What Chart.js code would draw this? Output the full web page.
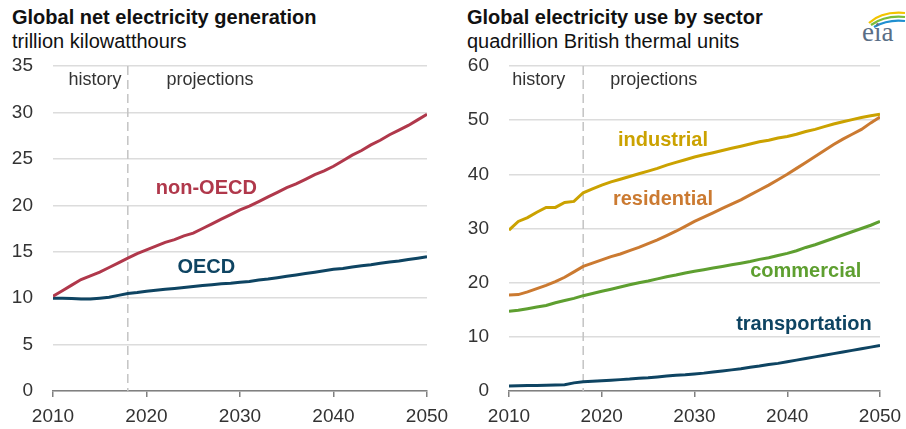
<!DOCTYPE html>
<html><head><meta charset="utf-8">
<script src="https://cdn.jsdelivr.net/npm/chart.js@4"></script>
<style>
html,body{margin:0;padding:0;background:#fff;}
body{width:906px;height:429px;position:relative;overflow:hidden;font-family:'Liberation Sans',Arial,sans-serif;}
.t{position:absolute;white-space:nowrap;color:#111;line-height:23px;}
.title{font-weight:bold;font-size:20px;}
.sub{font-size:20px;}
.cv{position:absolute;top:50px;width:450px;height:379px;}
</style></head><body>
<div class="t title" style="left:12px;top:6px">Global net electricity generation</div>
<div class="t sub" style="left:12px;top:30px">trillion kilowatthours</div>
<div class="t title" style="left:467px;top:6px">Global electricity use by sector</div>
<div class="t sub" style="left:467px;top:30px">quadrillion British thermal units</div>
<div class="cv" style="left:0"><canvas id="c1"></canvas></div>
<div class="cv" style="left:456px"><canvas id="c2"></canvas></div>
<svg style="position:absolute;left:858px;top:4px" width="48" height="42" viewBox="0 0 48 42">
<path d="M11 19 Q 24 7 47 9" stroke="#f2c400" stroke-width="2.2" fill="none"/>
<path d="M13 21 Q 27 11 47 13" stroke="#7bbd3a" stroke-width="2.2" fill="none"/>
<path d="M16 23 Q 30 15 47 17" stroke="#1f8fd0" stroke-width="2.2" fill="none"/>
<text x="4" y="37" font-family="'Liberation Serif', serif" font-size="27" fill="#5a6e86">eia</text>
</svg>
<script>
// ---------- data ----------
const years = [2010,2011,2012,2013,2014,2015,2016,2017,2018,2019,2020,2021,2022,2023,2024,2025,2026,2027,2028,2029,2030,2031,2032,2033,2034,2035,2036,2037,2038,2039,2040,2041,2042,2043,2044,2045,2046,2047,2048,2049,2050];

const nonOECD = [10.2,10.8,11.4,12.0,12.4,12.8,13.3,13.8,14.3,14.8,15.2,15.6,16.0,16.3,16.7,17.0,17.5,18.0,18.5,19.0,19.5,19.9,20.4,20.9,21.4,21.9,22.3,22.8,23.3,23.7,24.2,24.8,25.4,25.9,26.5,27.0,27.6,28.1,28.6,29.2,29.8];
const OECD = [10.0,10.0,9.95,9.9,9.9,10.0,10.1,10.3,10.5,10.6,10.75,10.85,10.95,11.05,11.15,11.25,11.35,11.45,11.55,11.6,11.7,11.8,11.95,12.05,12.2,12.35,12.5,12.65,12.8,12.95,13.1,13.2,13.35,13.5,13.6,13.75,13.9,14.0,14.15,14.3,14.45];

const industrial = [29.7,31.3,32.0,33.0,33.9,33.9,34.8,35.0,36.6,37.3,38.0,38.6,39.1,39.6,40.1,40.6,41.1,41.7,42.2,42.7,43.2,43.6,44.0,44.4,44.8,45.2,45.6,46.0,46.3,46.7,47.0,47.4,47.9,48.3,48.8,49.3,49.7,50.1,50.5,50.8,51.1];
const residential = [17.7,17.8,18.3,18.9,19.5,20.2,21.0,22.0,23.0,23.6,24.2,24.8,25.3,25.9,26.5,27.2,27.9,28.7,29.5,30.4,31.3,32.1,32.9,33.7,34.5,35.3,36.2,37.1,38.0,39.0,40.0,41.1,42.2,43.3,44.4,45.5,46.5,47.4,48.3,49.5,50.6];
const commercial = [14.7,14.9,15.2,15.5,15.8,16.3,16.7,17.1,17.6,18.0,18.4,18.8,19.2,19.6,20.0,20.3,20.7,21.1,21.4,21.8,22.1,22.4,22.7,23.0,23.3,23.6,23.9,24.3,24.6,25.0,25.4,25.9,26.5,27.0,27.6,28.2,28.8,29.4,30.0,30.6,31.3];
const transportation = [0.9,0.95,1.0,1.0,1.05,1.1,1.15,1.5,1.7,1.8,1.9,2.0,2.1,2.2,2.35,2.45,2.6,2.75,2.9,3.0,3.15,3.3,3.5,3.7,3.9,4.1,4.4,4.6,4.9,5.1,5.4,5.7,6.0,6.3,6.6,6.9,7.2,7.5,7.8,8.1,8.4];

const xTicks = [2010,2020,2030,2040,2050];
const yTicksLeft = [0,5,10,15,20,25,30,35];
const yTicksRight = [0,10,20,30,40,50,60];
const dividerYear = 2018;

// ---------- styling ----------
const FONT = "'Liberation Sans', Arial, sans-serif";
Chart.defaults.font.family = FONT;
const C = {red:'#b0384b', blue:'#0e4462', gold:'#cba200', orange:'#cb7a31', green:'#5e9f30'};

const pts = v => years.map((yr,i)=>({x:yr,y:v[i]}));
const ds = (label, v, color) => ({label, data:pts(v), borderColor:color, backgroundColor:color, borderWidth:3, pointRadius:0, tension:0, fill:false});

const annot = {
  id:'annot',
  beforeDatasetsDraw(chart, args, opts){
    const {ctx, chartArea:a, scales:{x}} = chart;
    const dx = x.getPixelForValue(opts.divider);
    ctx.save();
    ctx.strokeStyle='#c4c4c4'; ctx.lineWidth=1.5; ctx.setLineDash([9,5]);
    ctx.beginPath(); ctx.moveTo(dx,a.top); ctx.lineTo(dx,a.bottom); ctx.stroke();
    ctx.restore();
  },
  afterDatasetsDraw(chart, args, opts){
    const {ctx, scales:{x,y}} = chart;
    ctx.save();
    ctx.textAlign='center'; ctx.textBaseline='middle';
    for (const l of opts.labels){
      ctx.font = (l.bold?'bold ':'')+l.size+'px '+FONT;
      ctx.fillStyle=l.color;
      ctx.fillText(l.text, x.getPixelForValue(l.x), y.getPixelForValue(l.y));
    }
    ctx.restore();
  }
};

function makeChart(id, datasets, yMax, yTicks, padRight, labels){
  return new Chart(document.getElementById(id), {
    type:'line',
    data:{datasets},
    plugins:[annot],
    options:{
      responsive:true, maintainAspectRatio:false, animation:false,
      layout:{padding:{top:16,right:padRight,left:0,bottom:0}},
      plugins:{legend:{display:false}, tooltip:{enabled:false}, annot:{divider:dividerYear, labels}},
      scales:{
        x:{type:'linear', min:2010, max:2050,
           afterBuildTicks:s=>{s.ticks = xTicks.map(v=>({value:v}));},
           ticks:{callback:v=>String(v), color:'#333', font:{size:19}, padding:8, maxRotation:0, autoSkip:false},
           grid:{drawOnChartArea:false, drawTicks:true, tickLength:6, color:'#808080', lineWidth:1.5},
           border:{color:'#808080', width:1.5},
           afterFit:s=>{s.height=38; s.paddingLeft=0; s.paddingRight=0;}},
        y:{min:0, max:yMax,
           afterBuildTicks:s=>{s.ticks = yTicks.map(v=>({value:v}));},
           ticks:{color:'#333', font:{size:19}, padding:20},
           grid:{color:'#dcdcdc', lineWidth:1.5, drawTicks:false},
           border:{display:false},
           afterFit:s=>{s.width=53; s.paddingTop=0; s.paddingBottom=0;}}
      }
    }
  });
}

makeChart('c1', [ds('non-OECD', nonOECD, C.red), ds('OECD', OECD, C.blue)], 35, yTicksLeft, 23, [
  {text:'history', x:2014.5, y:33.5, size:18, color:'#333'},
  {text:'projections', x:2026.8, y:33.5, size:18, color:'#333'},
  {text:'non-OECD', x:2026.4, y:21.8, size:20, bold:true, color:C.red},
  {text:'OECD', x:2026.4, y:13.3, size:20, bold:true, color:C.blue}
]);
makeChart('c2', [ds('industrial', industrial, C.gold), ds('residential', residential, C.orange), ds('commercial', commercial, C.green), ds('transportation', transportation, C.blue)], 60, yTicksRight, 26, [
  {text:'history', x:2013.2, y:57.4, size:18, color:'#333'},
  {text:'projections', x:2025.6, y:57.4, size:18, color:'#333'},
  {text:'industrial', x:2026.6, y:46.2, size:20, bold:true, color:C.gold},
  {text:'residential', x:2026.6, y:35.4, size:20, bold:true, color:C.orange},
  {text:'commercial', x:2042.0, y:22.0, size:20, bold:true, color:C.green},
  {text:'transportation', x:2041.8, y:12.2, size:20, bold:true, color:C.blue}
]);
</script>
</body></html>
